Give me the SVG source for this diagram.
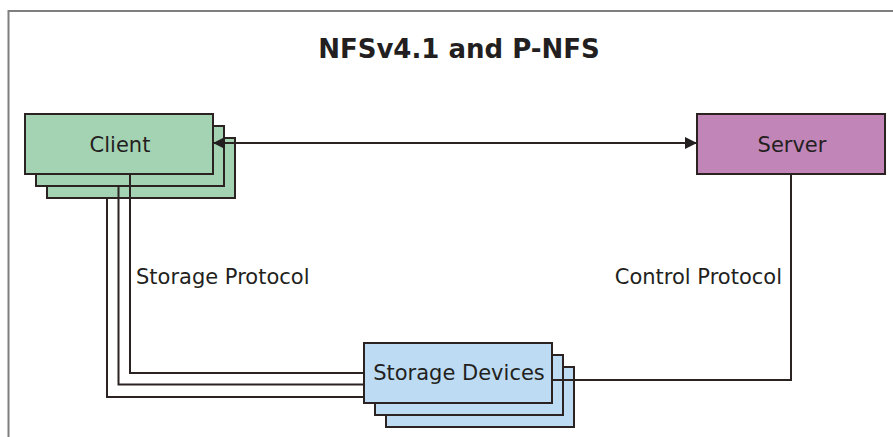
<svg xmlns="http://www.w3.org/2000/svg" width="893" height="437" viewBox="0 0 893 437">
  <style>
    .frame { fill: none; stroke: #7f7f7f; stroke-width: 2; }
    .box { stroke: #2b2222; stroke-width: 2; }
    .client { fill: #a4d3b4; }
    .server { fill: #c185b8; }
    .storage { fill: #bddcf3; }
    .wire { fill: none; stroke: #2b2222; stroke-width: 2; }
    .label { font-family: "DejaVu Sans", sans-serif; font-size: 21px; fill: #231f20; }
    .title { font-family: "DejaVu Sans", sans-serif; font-size: 26px; font-weight: bold; fill: #231f20; }
  </style>
  <defs>
    <marker id="arrow" viewBox="0 0 12 12" refX="12" refY="6" markerWidth="12" markerHeight="12" markerUnits="userSpaceOnUse" orient="auto-start-reverse">
      <path d="M0,0 L12,6 L0,12 z" fill="#231f20"/>
    </marker>
  </defs>

  <rect width="893" height="437" fill="#ffffff"/>
  <path class="frame" d="M8.5,437 V11 H893"/>

  <text class="title" x="459" y="58" text-anchor="middle">NFSv4.1 and P-NFS</text>

  <g id="client">
    <rect class="box client" x="47" y="138" width="188" height="60"/>
    <rect class="box client" x="36" y="126" width="188" height="60"/>
    <rect class="box client" x="25" y="114" width="188" height="60"/>
    <text class="label" x="120" y="152" text-anchor="middle">Client</text>
  </g>

  <g id="server">
    <rect class="box server" x="697" y="114" width="188" height="60"/>
    <text class="label" x="792" y="152" text-anchor="middle">Server</text>
  </g>

  <g id="storage">
    <rect class="box storage" x="386" y="367" width="188" height="60"/>
    <rect class="box storage" x="375" y="355" width="188" height="60"/>
    <rect class="box storage" x="364" y="343" width="188" height="60"/>
    <text class="label" x="459" y="380" text-anchor="middle">Storage Devices</text>
  </g>

  <g id="connectors">
    <path class="wire" d="M213,143 H697" marker-start="url(#arrow)" marker-end="url(#arrow)"/>
    <path class="wire" d="M130,174 V373 H364"/>
    <path class="wire" d="M118.5,186 V384.5 H364"/>
    <path class="wire" d="M107,198 V397 H364"/>
    <path class="wire" d="M791,174 V380 H552"/>
    <text class="label" x="136" y="284">Storage Protocol</text>
    <text class="label" x="782" y="284" text-anchor="end">Control Protocol</text>
  </g>
</svg>
